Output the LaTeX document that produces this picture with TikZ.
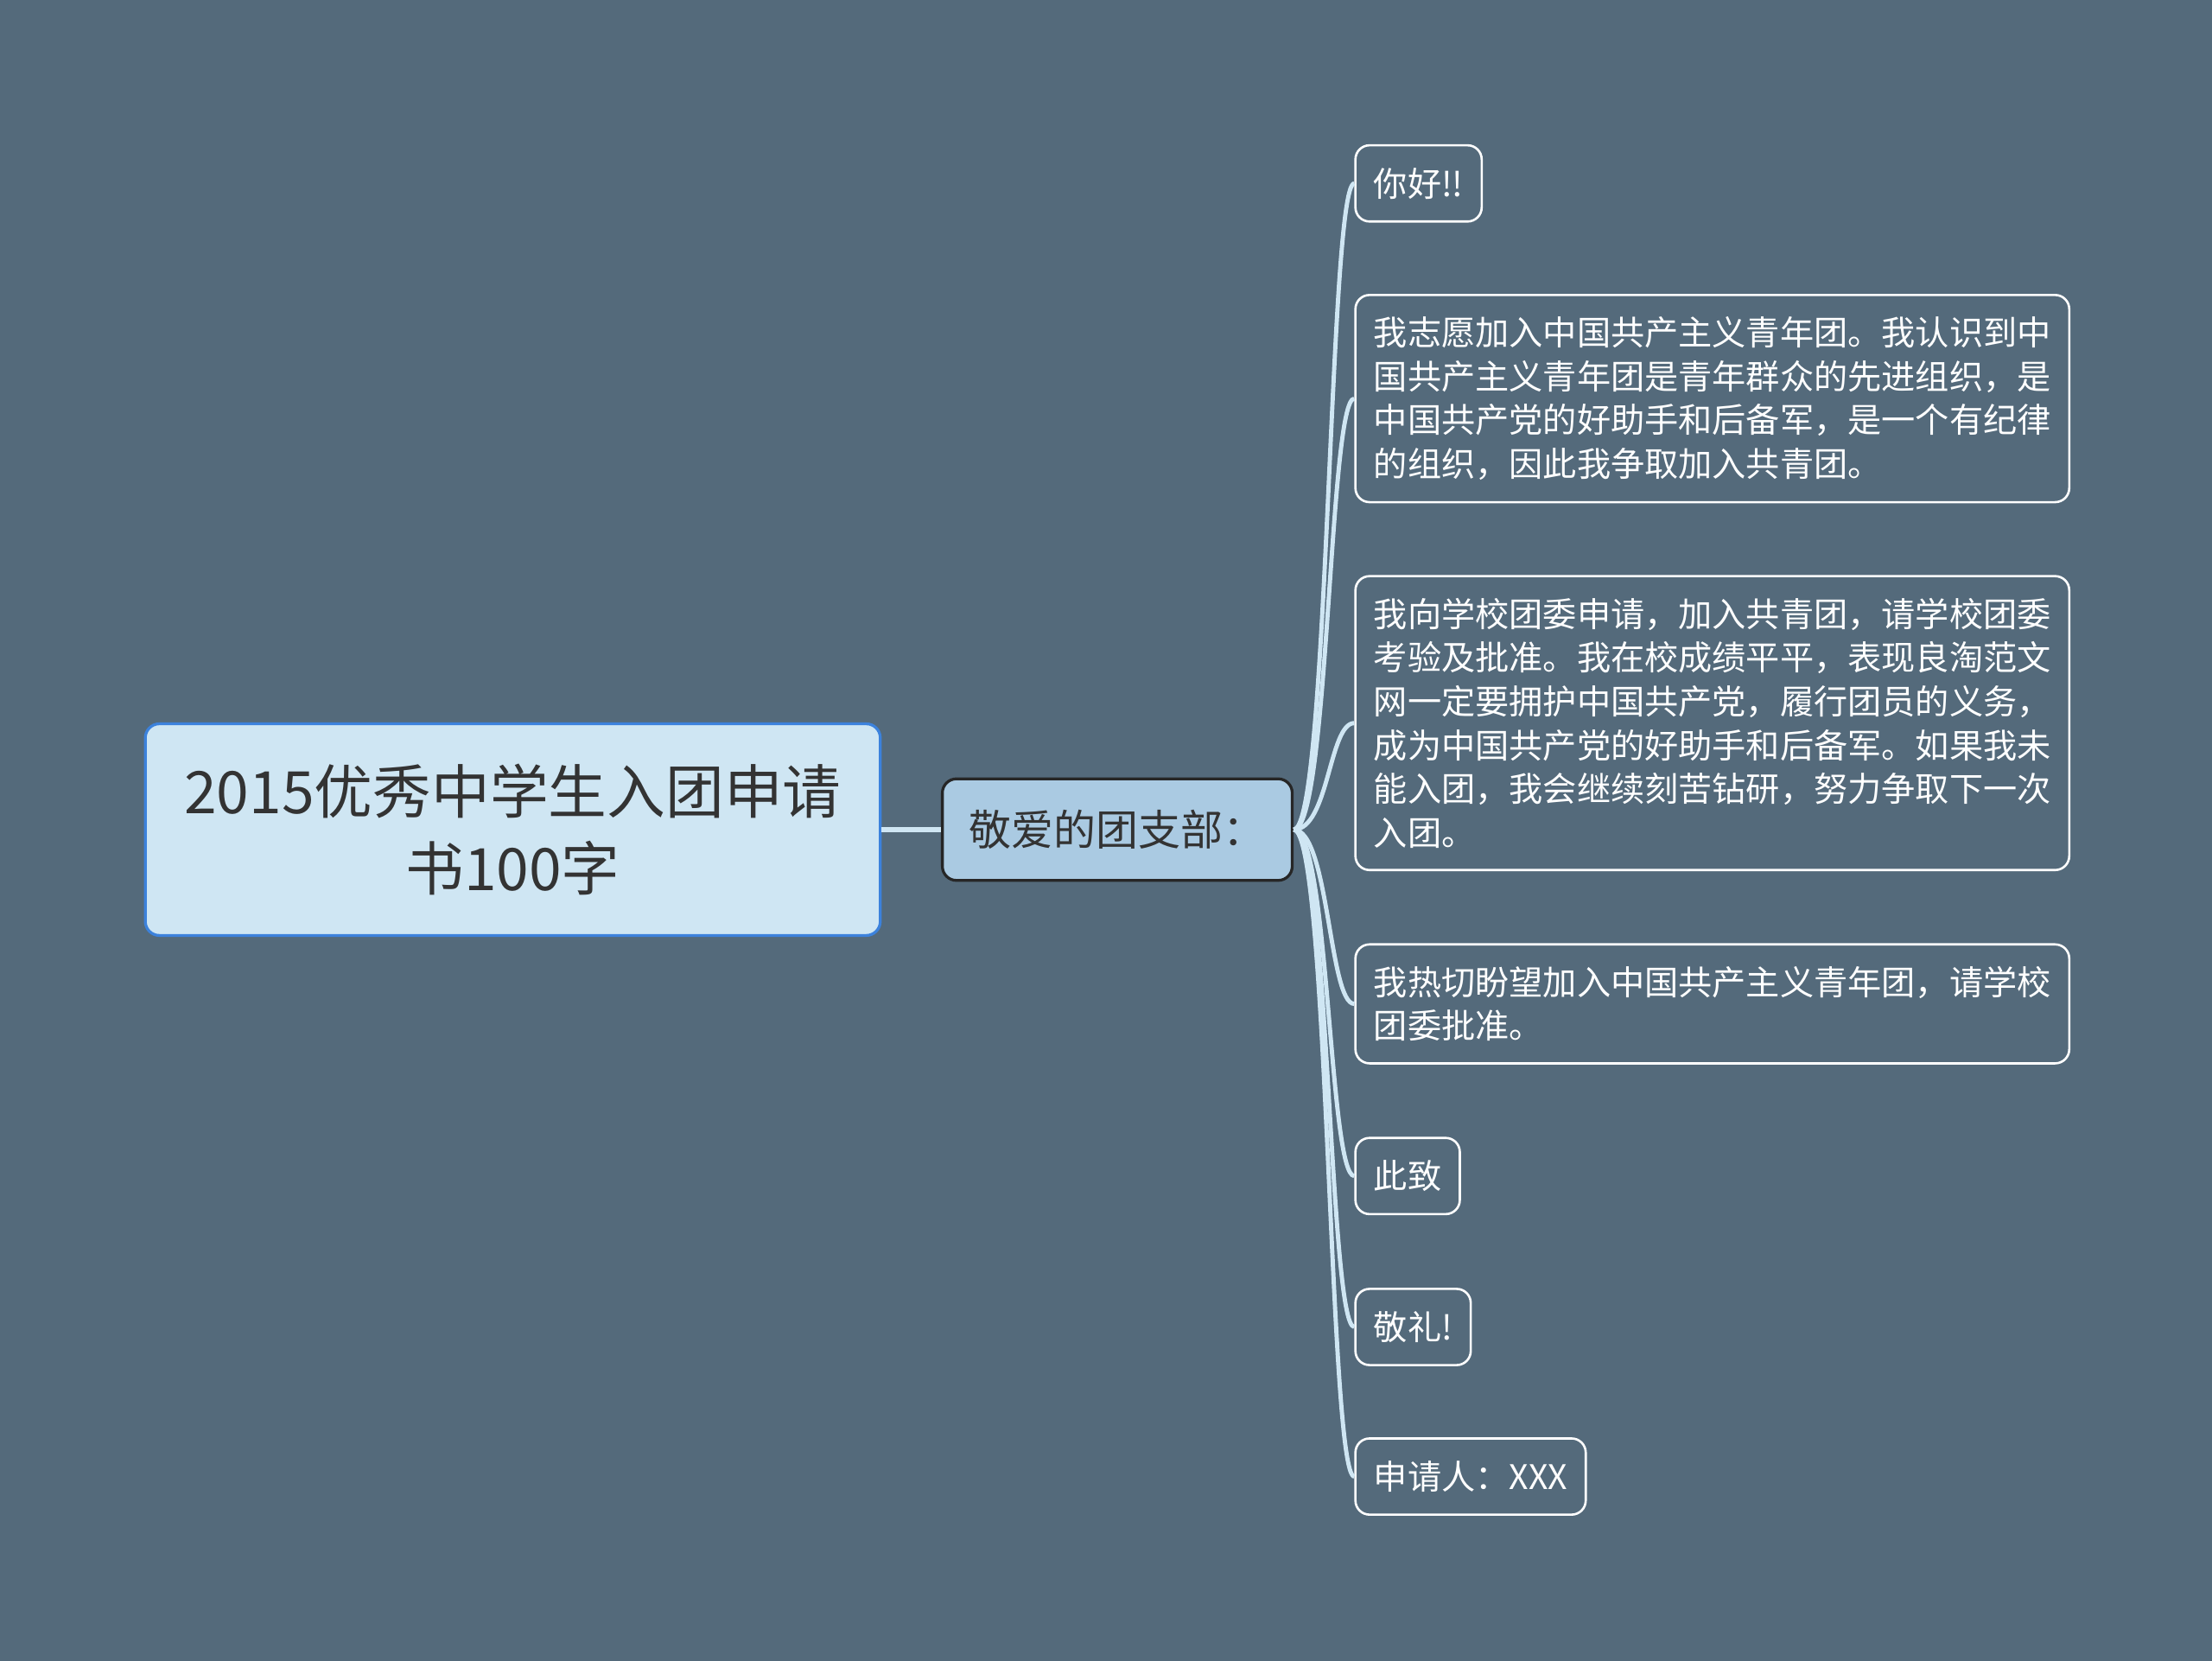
\documentclass[tikz,border=0pt]{standalone}
\usepackage{fontspec}
\newfontfamily\cjk{Noto Sans CJK SC}
\definecolor{bgcol}{HTML}{546A7B}
\definecolor{rootfill}{HTML}{CFE6F3}
\definecolor{rootline}{HTML}{3C82DC}
\definecolor{subfill}{HTML}{AACAE2}
\definecolor{linkcol}{HTML}{CFE6F3}
\definecolor{txtdark}{HTML}{333333}
\tikzset{
  rootbox/.style={draw=rootline, fill=rootfill, line width=2pt, rounded corners=10pt,
    minimum width=521pt, minimum height=150pt, align=center, text=txtdark,
    font=\cjk\fontsize{41.5pt}{55pt}\selectfont},
  subbox/.style={draw=black!85, fill=subfill, line width=2pt, rounded corners=10pt,
    minimum width=248pt, minimum height=72pt, text=txtdark,
    font=\cjk\fontsize{30pt}{35pt}\selectfont},
  leafbox/.style={draw=white, line width=1.6pt, rounded corners=10pt, anchor=west,
    inner xsep=13pt, inner ysep=11pt, minimum height=54pt, align=left, text=white,
    font=\cjk\fontsize{24pt}{31pt}\selectfont},
  parabox/.style={leafbox, inner ysep=15.5pt, minimum width=505pt},
  link/.style={draw=linkcol, line width=3pt},
}
\begin{document}
\begin{tikzpicture}[x=1pt,y=1pt]
  \fill[bgcol] (0,0) rectangle (1568,1177);
  \useasboundingbox (0,0) rectangle (1568,1177);
  % main topic and first branch
  \node[rootbox] (root) at (363.5,589) {2015优秀中学生入团申请\\书100字};
  \node[subbox] (sub) at (792,589) {敬爱的团支部：};
  \draw[link, line width=4pt] (root.east) -- (sub.west);
  % leaves
  \node[leafbox] (l1) at (960,1047) {你好!!};
  \node[parabox] (l2) at (960,894.5) {我志愿加入中国共产主义青年团。我认识到中\\国共产主义青年团是青年群众的先进组织，是\\中国共产党的好助手和后备军，是一个有纪律\\的组织，因此我争取加入共青团。};
  \node[parabox] (l3) at (960,664.5) {我向学校团委申请，加入共青团，请学校团委\\考验及批准。我在校成绩平平，表现良淘范文\\网一定要拥护中国共产党，履行团员的义务，\\成为中国共产党的好助手和后备军。如果我未\\能入团，我会继续刻苦钻研，努力争取下一次\\入团。};
  \node[parabox] (l4) at (960,465.5) {我热切盼望加入中国共产主义青年团，请学校\\团委批准。};
  \node[leafbox] (l5) at (960,343.5) {此致};
  \node[leafbox] (l6) at (960,236.5) {敬礼!};
  \node[leafbox] (l7) at (960,130.5) {申请人：XXX};
  \foreach \leaf in {l1,l2,l3,l4,l5,l6,l7}
    \draw[link] (sub.east) .. controls +(25,0) and +(-18,0) .. (\leaf.west);
\end{tikzpicture}
\end{document}
